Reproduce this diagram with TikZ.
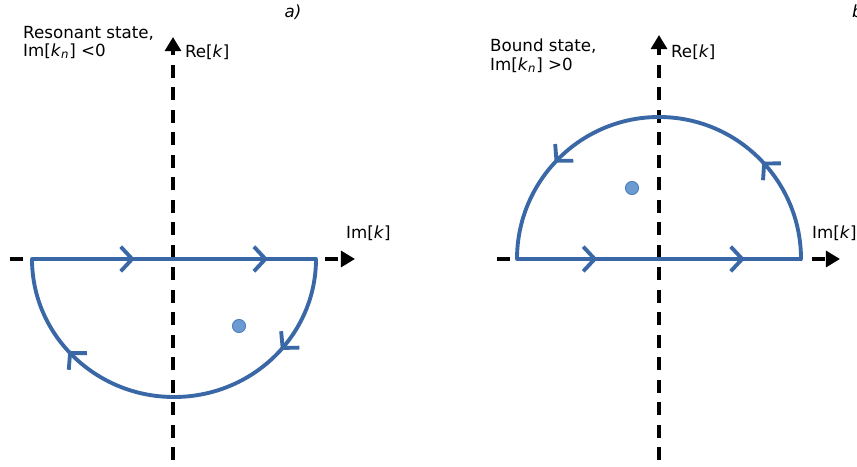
\documentclass[tikz,border=0pt]{standalone}
\usepackage{fontspec}
\setmainfont{DejaVu Sans}
\usetikzlibrary{arrows.meta,decorations.markings}
\definecolor{contourcolor}{RGB}{58,103,166}
\definecolor{polecolor}{RGB}{108,155,210}
\definecolor{poleedge}{RGB}{74,126,187}

\begin{document}
\begin{tikzpicture}[x=0.02cm,y=0.02cm,
    every node/.style={font=\fontsize{9.5}{10.5}\selectfont},
    >={Straight Barb[length=6.5pt,width=14pt]},
    axis/.style={line width=2pt,dash pattern=on 7.3pt off 5.5pt,-{Triangle[length=8pt,width=9pt]}},
    contour/.style={contourcolor,line width=2.2pt,line join=round},
    chevrons/.style={postaction={decorate},decoration={markings,#1}},
    pole/.style={circle,fill=polecolor,draw=poleedge,line width=0.5pt,minimum size=7.5pt,inner sep=0pt}]
  \useasboundingbox (0,0) rectangle (857,466);

  % a) resonant state: pole below the real axis
  \coordinate (lxs) at (10,207);
  \coordinate (lxe) at (355,207);
  \coordinate (lys) at (173,6);
  \coordinate (lye) at (173,429);
  \draw[axis] (lxs) -- (lxe);
  \draw[axis] (lys) -- (lye);
  \coordinate (la) at (32,207);
  \coordinate (lb) at (316,207);
  \draw[contour,chevrons={mark=at position 0.142 with {\arrow{>}},
      mark=at position 0.326 with {\arrow{>}},
      mark=at position 0.530 with {\arrow{>}},
      mark=at position 0.860 with {\arrow{>}}}]
    (la) -- (lb) arc[start angle=0,end angle=-180,x radius=142,y radius=138] -- cycle;
  \node[pole] (lpole) at (239,140) {};
  \node[anchor=west,inner sep=1pt] (lre) at (183,414) {Re[\textit{k}]};
  \node[anchor=west,inner sep=1pt] (lim) at (344,233) {Im[\textit{k}]};
  \node[anchor=north west,align=left] (ltext) at (17,446)
    {Resonant state,\\Im[\textit{k}\textsubscript{\textit{n}}] <0};
  \node (ltag) at (293,454) {\textit{a)}};

  % b) bound state: pole above the real axis
  \coordinate (rxs) at (497,207);
  \coordinate (rxe) at (840,207);
  \coordinate (rys) at (659,6);
  \coordinate (rye) at (659,431);
  \draw[axis] (rxs) -- (rxe);
  \draw[axis] (rys) -- (rye);
  \coordinate (ra) at (517,207);
  \coordinate (rb) at (801,207);
  \draw[contour,chevrons={mark=at position 0.110 with {\arrow{>}},
      mark=at position 0.312 with {\arrow{>}},
      mark=at position 0.536 with {\arrow{>}},
      mark=at position 0.855 with {\arrow{>}}}]
    (ra) -- (rb) arc[start angle=0,end angle=180,radius=142] -- cycle;
  \node[pole] (rpole) at (632,278) {};
  \node[anchor=west,inner sep=1pt] (rre) at (669,414) {Re[\textit{k}]};
  \node[anchor=west,inner sep=1pt] (rim) at (810,233) {Im[\textit{k}]};
  \node[anchor=north west,align=left] (rtext) at (484,433)
    {Bound state,\\Im[\textit{k}\textsubscript{\textit{n}}] >0};
  \node[anchor=west,inner sep=1pt] (rtag) at (850,454) {\textit{b)}};
\end{tikzpicture}
\end{document}
